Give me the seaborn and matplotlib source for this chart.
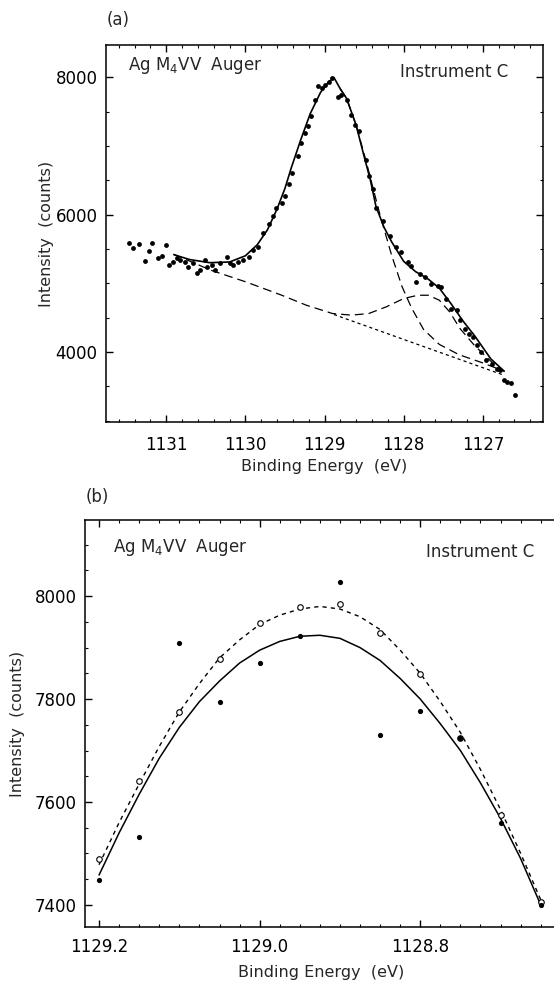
import matplotlib
matplotlib.use("Agg")
import matplotlib.pyplot as plt
import seaborn as sns
import pandas as pd
from matplotlib.ticker import MultipleLocator, FormatStrFormatter

# ---------------- Panel (a) data ----------------
a_dots_x = [1131.47, 1131.42, 1131.34, 1131.18, 1131.22, 1131.00, 1131.27, 1131.10, 1131.05,
            1130.97, 1130.92, 1130.86, 1130.82, 1130.76, 1130.72, 1130.66, 1130.61, 1130.57,
            1130.51, 1130.48, 1130.42, 1130.38, 1130.32, 1130.23, 1130.19, 1130.15, 1130.09,
            1130.03, 1129.96, 1129.90, 1129.84, 1129.78,
            1129.70, 1129.65, 1129.61, 1129.54, 1129.50, 1129.45, 1129.41, 1129.34, 1129.30,
            1129.25, 1129.21, 1129.17, 1129.12, 1129.08, 1129.03, 1128.99, 1128.94, 1128.90,
            1128.83, 1128.79, 1128.72, 1128.66, 1128.61, 1128.57, 1128.48, 1128.44, 1128.39,
            1128.35, 1128.26, 1128.17, 1128.10, 1128.04, 1127.95, 1127.91, 1127.84, 1127.80,
            1127.73, 1127.66, 1127.57, 1127.53, 1127.46, 1127.40, 1127.33, 1127.29, 1127.22,
            1127.18, 1127.13, 1127.07, 1127.02, 1126.96, 1126.89, 1126.82, 1126.78, 1126.73,
            1126.69, 1126.65, 1126.59]
a_dots_y = [5586, 5513, 5571, 5586, 5469, 5556, 5324, 5367, 5396,
            5265, 5309, 5367, 5338, 5309, 5236, 5295, 5149, 5193,
            5338, 5236, 5265, 5193, 5295, 5382, 5295, 5265, 5309,
            5338, 5382, 5484, 5527, 5731,
            5860, 5981, 6101, 6174, 6271, 6440, 6609, 6850, 7043,
            7188, 7285, 7430, 7671, 7874, 7841, 7889, 7937, 7986,
            7720, 7744, 7671, 7454, 7309, 7213, 6802, 6560, 6367,
            6101, 5908, 5691, 5522, 5449, 5304, 5256, 5014, 5135,
            5087, 4990, 4966, 4942, 4773, 4628, 4604, 4459, 4338,
            4266, 4217, 4097, 4000, 3879, 3831, 3758, 3734, 3589,
            3565, 3541, 3372]

a_fit_x = [1130.90, 1130.70, 1130.45, 1130.20, 1130.00, 1129.85, 1129.72, 1129.60, 1129.50,
           1129.42, 1129.30, 1129.18, 1129.05, 1128.95, 1128.88, 1128.80, 1128.72, 1128.60,
           1128.50, 1128.42, 1128.35, 1128.25, 1128.15, 1128.00, 1127.85, 1127.70, 1127.55,
           1127.40, 1127.25, 1127.10, 1126.90, 1126.73]
a_fit_y = [5415, 5345, 5300, 5310, 5400, 5560, 5780, 6080, 6380,
           6680, 7090, 7470, 7780, 7930, 7995, 7830, 7690, 7300,
           6850, 6500, 6120, 5820, 5600, 5320, 5170, 5070, 4930,
           4700, 4450, 4230, 3900, 3720]

a_main_x = [1128.80, 1128.72, 1128.60, 1128.48, 1128.30, 1128.15, 1128.02, 1127.90, 1127.75,
            1127.55, 1127.30, 1127.00, 1126.73]
a_main_y = [7830, 7690, 7300, 6802, 6000, 5400, 4950, 4640, 4330,
            4110, 3960, 3840, 3720]

a_shoulder_x = [1130.91, 1130.43, 1129.99, 1129.54, 1129.23, 1128.90, 1128.66, 1128.44, 1128.22,
                1128.00, 1127.82, 1127.69, 1127.55, 1127.42, 1127.29, 1127.11, 1126.89, 1126.76]
a_shoulder_y = [5425, 5188, 5019, 4826, 4681, 4560, 4536, 4560, 4657,
                4778, 4826, 4826, 4754, 4585, 4343, 4101, 3855, 3734]

a_bg_x = [1128.88, 1127.80, 1126.73]
a_bg_y = [4545, 4100, 3660]

# ---------------- Panel (b) data ----------------
b_x = [1129.20, 1129.15, 1129.10, 1129.05, 1129.00, 1128.95, 1128.90, 1128.85,
       1128.80, 1128.75, 1128.70, 1128.65]
b_raw = [7449, 7531, 7909, 7795, 7870, 7922, 8027, 7731, 7776, 7725, 7560, 7400]
b_smooth = [7490, 7640, 7774, 7877, 7947, 7979, 7984, 7928, 7848, 7725, 7575, 7405]

b_curve_x = [1129.200, 1129.175, 1129.150, 1129.125, 1129.100, 1129.075, 1129.050, 1129.025,
             1129.000, 1128.975, 1128.950, 1128.925, 1128.900, 1128.875, 1128.850, 1128.825,
             1128.800, 1128.775, 1128.750, 1128.725, 1128.700, 1128.675, 1128.650]
b_fit_solid = [7458, 7540, 7615, 7685, 7745, 7795, 7835, 7870,
               7895, 7912, 7922, 7924, 7918, 7900, 7875, 7840,
               7800, 7752, 7700, 7637, 7568, 7490, 7400]
b_fit_dashed = [7478, 7560, 7635, 7708, 7775, 7830, 7880, 7915,
                7945, 7963, 7975, 7980, 7975, 7960, 7935, 7895,
                7850, 7795, 7735, 7663, 7585, 7500, 7410]

# ---------------- style ----------------
sns.set_theme(style="ticks")
plt.rcParams.update({
    "font.family": ["DejaVu Sans"],
    "mathtext.fontset": "dejavusans",
    "axes.edgecolor": "black",
    "axes.linewidth": 1.1,
    "xtick.direction": "in",
    "ytick.direction": "in",
    "xtick.color": "black",
    "ytick.color": "black",
    "xtick.labelsize": 12,
    "ytick.labelsize": 12,
    "xtick.major.size": 5,
    "ytick.major.size": 5,
    "xtick.minor.size": 2.5,
    "ytick.minor.size": 2.5,
    "xtick.major.width": 1.0,
    "ytick.major.width": 1.0,
    "xtick.minor.width": 0.8,
    "ytick.minor.width": 0.8,
})

W, H = 554, 984
fig = plt.figure(figsize=(W / 100, H / 100), dpi=100)
fig.patch.set_facecolor("white")


def frac(l, t, r, b):
    return [l / W, 1 - b / H, (r - l) / W, (b - t) / H]


axa = fig.add_axes(frac(106, 45, 543, 422))
axb = fig.add_axes(frac(85, 520, 566, 927))

# ---- panel (a) ----
sns.scatterplot(x=a_dots_x, y=a_dots_y, ax=axa, color="black", s=12, linewidth=0, zorder=3)
sns.lineplot(x=a_fit_x, y=a_fit_y, ax=axa, color="black", lw=1.2, sort=False, estimator=None)
sns.lineplot(x=a_main_x, y=a_main_y, ax=axa, color="black", lw=0.9, sort=False, estimator=None,
             linestyle=(0, (7, 4)))
sns.lineplot(x=a_shoulder_x, y=a_shoulder_y, ax=axa, color="black", lw=0.9, sort=False,
             estimator=None, linestyle=(0, (7, 4)))
sns.lineplot(x=a_bg_x, y=a_bg_y, ax=axa, color="black", lw=0.9, sort=False, estimator=None,
             linestyle=(0, (2.5, 2.5)))

axa.set_xlim(1131.76, 1126.24)
axa.set_ylim(2980, 8470)
axa.set_xticks([1131, 1130, 1129, 1128, 1127])
axa.set_yticks([4000, 6000, 8000])
axa.xaxis.set_minor_locator(MultipleLocator(0.2))
axa.yaxis.set_minor_locator(MultipleLocator(500))
axa.tick_params(which="both", top=True, right=True)
axa.tick_params(axis="x", which="major", pad=10)
axa.tick_params(axis="y", which="major", pad=6)
axa.set_xlabel("Binding Energy  (eV)", fontsize=11.5)
axa.set_ylabel("Intensity  (counts)", fontsize=11.5)
axa.xaxis.set_label_coords(0.5, -0.119)
axa.xaxis.label.set_va("center")
axa.yaxis.set_label_coords(-0.137, 0.5)
axa.yaxis.label.set_va("center")
axa.yaxis.label.set_ha("center")

# ---- panel (b) ----
sns.lineplot(x=b_curve_x, y=b_fit_solid, ax=axb, color="black", lw=1.1, sort=False,
             estimator=None)
sns.lineplot(x=b_curve_x, y=b_fit_dashed, ax=axb, color="black", lw=1.0, sort=False,
             estimator=None, linestyle=(0, (3, 3)))
sns.scatterplot(x=b_x, y=b_smooth, ax=axb, marker="o", s=16, facecolor="white",
                edgecolor="black", linewidth=0.8, zorder=3)
sns.scatterplot(x=b_x, y=b_raw, ax=axb, color="black", s=14, linewidth=0, zorder=4)

axb.set_xlim(1129.2175, 1128.6185)
axb.set_ylim(7357, 8148)
axb.set_xticks([1129.2, 1129.0, 1128.8])
axb.xaxis.set_major_formatter(FormatStrFormatter("%.1f"))
axb.set_yticks([7400, 7600, 7800, 8000])
axb.xaxis.set_minor_locator(MultipleLocator(0.025))
axb.yaxis.set_minor_locator(MultipleLocator(50))
axb.tick_params(which="both", top=True, right=False)
axb.tick_params(axis="x", which="major", pad=8)
axb.tick_params(axis="y", which="major", pad=6)
axb.spines["right"].set_visible(False)
axb.set_xlabel("Binding Energy  (eV)", fontsize=11.5)
axb.set_ylabel("Intensity  (counts)", fontsize=11.5)
axb.xaxis.set_label_coords(0.49, -0.113)
axb.xaxis.label.set_va("center")
axb.yaxis.set_label_coords(-0.14, 0.5)
axb.yaxis.label.set_va("center")
axb.yaxis.label.set_ha("center")

# ---- annotations ----
def ftext(x, y, s, **kw):
    fig.text(x / W, 1 - y / H, s, va="center", fontsize=12, **kw)

ftext(107, 20, "(a)", ha="left")
ftext(128, 65, r"Ag M$_4$VV  Auger", ha="left")
ftext(508, 72, "Instrument C", ha="right")
ftext(86, 497, "(b)", ha="left")
ftext(113, 547, r"Ag M$_4$VV  Auger", ha="left")
ftext(534, 552, "Instrument C", ha="right")

fig.savefig("out.png", dpi=100, facecolor="white")
